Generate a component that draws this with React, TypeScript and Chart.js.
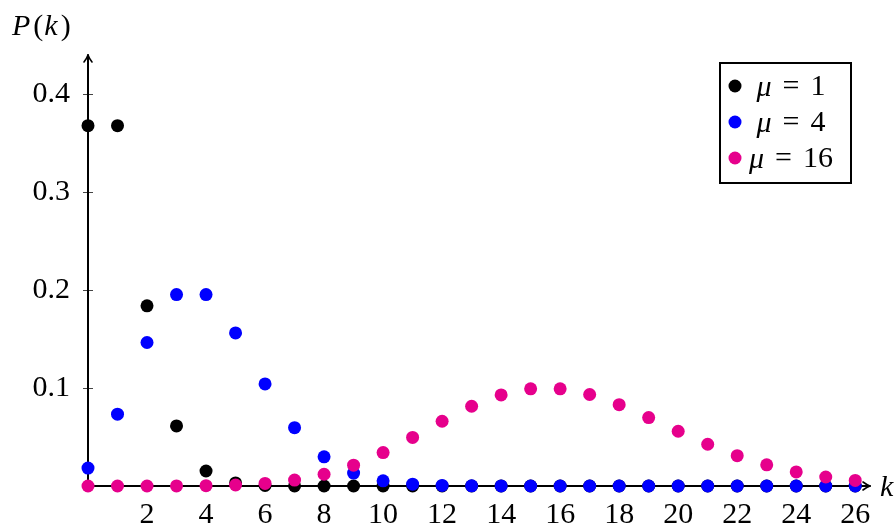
import React, { useEffect, useRef } from "react";
import { Chart, registerables } from "chart.js";

Chart.register(...registerables);

const K = [0, 1, 2, 3, 4, 5, 6, 7, 8, 9, 10, 11, 12, 13, 14, 15, 16, 17, 18, 19, 20, 21, 22, 23, 24, 25, 26];

const MU1 = [0.3679, 0.3679, 0.1839, 0.0613, 0.0153, 0.0031, 0.0005, 0.0001, 0.00001, 0, 0, 0, 0, 0, 0, 0, 0, 0, 0, 0, 0, 0, 0, 0, 0, 0, 0];
const MU4 = [0.0183, 0.0733, 0.1465, 0.1954, 0.1954, 0.1563, 0.1042, 0.0595, 0.0298, 0.0132, 0.0053, 0.0019, 0.0006, 0.0002, 0.0001, 0, 0, 0, 0, 0, 0, 0, 0, 0, 0, 0, 0];
const MU16 = [0, 0, 0, 0.0001, 0.0003, 0.001, 0.0026, 0.006, 0.012, 0.0213, 0.0341, 0.0496, 0.0661, 0.0814, 0.093, 0.0992, 0.0992, 0.0934, 0.083, 0.0699, 0.0559, 0.0426, 0.031, 0.0216, 0.0144, 0.0092, 0.0057];

const SERIES_LABELS = ["1", "4", "16"];
const SERIES_COLORS = ["#000000", "#0000ff", "#e6008c"];

const X_TICKS = [2, 4, 6, 8, 10, 12, 14, 16, 18, 20, 22, 24, 26];
const Y_TICKS = [0.1, 0.2, 0.3, 0.4];

const FONT = "'Liberation Serif', 'DejaVu Serif', serif";
const FS = 30;

const decor = {
  id: "decor",
  beforeDatasetsDraw(chart: any) {
    const { ctx, scales } = chart;
    const xs = scales.x;
    const ys = scales.y;
    const x0 = xs.getPixelForValue(0);
    const y0 = ys.getPixelForValue(0);
    const xEnd = xs.right;
    const yEnd = ys.top;
    ctx.save();
    ctx.lineWidth = 1;
    ctx.strokeStyle = "#444";
    X_TICKS.forEach((v) => {
      const px = Math.round(xs.getPixelForValue(v)) + 0.5;
      ctx.beginPath();
      ctx.moveTo(px, y0 - 5);
      ctx.lineTo(px, y0 + 5);
      ctx.stroke();
    });
    Y_TICKS.forEach((v) => {
      const py = Math.round(ys.getPixelForValue(v)) + 0.5;
      ctx.beginPath();
      ctx.moveTo(x0 - 5, py);
      ctx.lineTo(x0 + 5, py);
      ctx.stroke();
    });
    ctx.strokeStyle = "#000";
    ctx.lineWidth = 2;
    ctx.lineCap = "round";
    ctx.lineJoin = "round";
    ctx.beginPath();
    ctx.moveTo(x0, y0);
    ctx.lineTo(xEnd, y0);
    ctx.moveTo(x0, y0);
    ctx.lineTo(x0, yEnd);
    ctx.stroke();
    ctx.lineWidth = 1.6;
    ctx.beginPath();
    ctx.moveTo(xEnd - 7, y0 - 4);
    ctx.quadraticCurveTo(xEnd - 3, y0 - 1, xEnd, y0);
    ctx.quadraticCurveTo(xEnd - 3, y0 + 1, xEnd - 7, y0 + 4);
    ctx.moveTo(x0 - 4, yEnd + 7);
    ctx.quadraticCurveTo(x0 - 1, yEnd + 3, x0, yEnd);
    ctx.quadraticCurveTo(x0 + 1, yEnd + 3, x0 + 4, yEnd + 7);
    ctx.stroke();
    ctx.restore();
  },
  afterDraw(chart: any) {
    const { ctx, scales } = chart;
    const xs = scales.x;
    const ys = scales.y;
    const y0 = ys.getPixelForValue(0);
    ctx.save();
    ctx.fillStyle = "#000";
    ctx.textBaseline = "middle";
    // P(k)
    let x = 12;
    const yl = 27;
    const parts: [string, boolean][] = [["P", true], ["(", false], ["k", true], [")", false]];
    parts.forEach(([t, it]) => {
      ctx.font = (it ? "italic " : "") + FS + "px " + FONT;
      ctx.textAlign = "left";
      ctx.fillText(t, x, yl);
      x += ctx.measureText(t).width + (it ? 3 : 1);
    });
    // k label
    ctx.font = "italic " + FS + "px " + FONT;
    ctx.textAlign = "left";
    ctx.fillText("k", xs.right + 10, y0 + 2);

    // legend box
    const bx = 720, by = 63, bw = 131, bh = 120;
    ctx.fillStyle = "#fff";
    ctx.fillRect(bx, by, bw, bh);
    ctx.strokeStyle = "#000";
    ctx.lineWidth = 2;
    ctx.strokeRect(bx, by, bw, bh);
    const rows = [86, 122, 158];
    chart.data.datasets.forEach((ds: any, i: number) => {
      const ry = rows[i];
      ctx.fillStyle = ds.backgroundColor;
      ctx.beginPath();
      ctx.arc(735, ry, 6.5, 0, Math.PI * 2);
      ctx.fill();
      ctx.fillStyle = "#000";
      const muFont = "italic " + FS + "px " + FONT;
      const restFont = FS + "px " + FONT;
      const gap = 11;
      ctx.font = muFont;
      const wMu = ctx.measureText("μ").width;
      ctx.font = restFont;
      const wEq = ctx.measureText("=").width;
      const wNum = ctx.measureText(SERIES_LABELS[i]).width;
      const total = wMu + gap + wEq + gap + wNum;
      let tx = 791 - total / 2;
      ctx.textAlign = "left";
      ctx.font = muFont;
      ctx.fillText("μ", tx, ry + 2);
      tx += wMu + gap;
      ctx.font = restFont;
      ctx.fillText("=", tx, ry + 1);
      tx += wEq + gap;
      ctx.fillText(SERIES_LABELS[i], tx, ry + 1);
    });
    ctx.restore();
  },
};

export default function App() {
  const ref = useRef<HTMLCanvasElement | null>(null);
  useEffect(() => {
    if (!ref.current) return;
    const mk = (vals: number[]) => K.map((k, i) => ({ x: k, y: vals[i] }));
    const chart = new Chart(ref.current, {
      type: "scatter",
      data: {
        datasets: [MU1, MU4, MU16].map((vals, i) => ({
          label: "μ = " + SERIES_LABELS[i],
          data: mk(vals),
          backgroundColor: SERIES_COLORS[i],
          borderColor: SERIES_COLORS[i],
          borderWidth: 0,
          pointRadius: 6.5,
          pointHoverRadius: 6.5,
          clip: false as any,
          order: 2 - i,
        })),
      },
      options: {
        responsive: false,
        animation: false,
        devicePixelRatio: 1,
        layout: { padding: { top: 55, right: 26, left: 0, bottom: 0 } },
        plugins: { legend: { display: false }, tooltip: { enabled: false } },
        events: [],
        scales: {
          x: {
            type: "linear",
            min: 0,
            max: 26.5,
            grid: { display: false, drawTicks: false },
            border: { display: false },
            afterBuildTicks: (s: any) => {
              s.ticks = X_TICKS.map((v) => ({ value: v }));
            },
            afterFit: (s: any) => {
              s.height = 43;
            },
            ticks: {
              autoSkip: false,
              maxRotation: 0,
              padding: 11,
              color: "#000",
              font: { family: FONT, size: FS },
              callback: (v: any) => String(v),
            },
          },
          y: {
            type: "linear",
            min: 0,
            max: 0.44,
            grid: { display: false, drawTicks: false },
            border: { display: false },
            afterBuildTicks: (s: any) => {
              s.ticks = Y_TICKS.map((v) => ({ value: v }));
            },
            afterFit: (s: any) => {
              s.width = 88;
            },
            ticks: {
              autoSkip: false,
              padding: 18,
              color: "#000",
              font: { family: FONT, size: FS },
              callback: (v: any) => Number(v).toFixed(1),
            },
          },
        },
      },
      plugins: [decor],
    });
    return () => chart.destroy();
  }, []);
  return (
    <div style={{ position: "absolute", left: 0, top: 0, width: 896, height: 529, background: "#fff" }}>
      <canvas ref={ref} width={896} height={529} />
    </div>
  );
}
